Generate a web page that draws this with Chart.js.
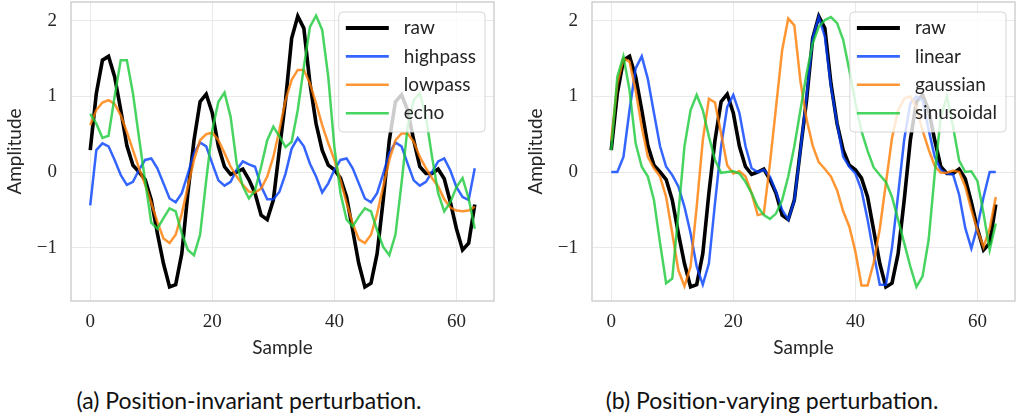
<!DOCTYPE html>
<html>
<head>
<meta charset="utf-8">
<script src="https://cdn.jsdelivr.net/npm/chart.js@4.4.0/dist/chart.umd.min.js"></script>
<style>
  body { margin: 0; background: #fff; }
  #fig { position: relative; width: 1023px; height: 419px; background: #fff; overflow: hidden; }
  canvas { position: absolute; top: 0; }
  .caption { position: absolute; top: 387px; width: 498px; text-align: center; font: 23px Lato, sans-serif; line-height: 27px; color: #111; }
</style>
</head>
<body>
<div id="fig">
  <canvas id="chartA" width="502" height="370" style="left:0px"></canvas>
  <canvas id="chartB" width="502" height="370" style="left:521px"></canvas>
  <div class="caption" style="left:0px">(a) Position-invariant perturbation.</div>
  <div class="caption" style="left:523px">(b) Position-varying perturbation.</div>
</div>
<script>
// values (sample index 0..63)
const raw = [0.29, 1.04, 1.48, 1.53, 1.26, 0.82, 0.35, 0.09, 0.0, -0.10,
    -0.37, -0.81, -1.21, -1.52, -1.49, -1.08, -0.28, 0.42, 0.93, 1.03,
    0.78, 0.34, 0.07, -0.03, 0.0, 0.04, -0.10, -0.28, -0.57, -0.63,
    -0.37, 0.30, 0.95, 1.77, 2.06, 1.90, 1.17, 0.64, 0.29, 0.09,
    0.03, -0.08, -0.33, -0.77, -1.21, -1.52, -1.47, -1.08, -0.37, 0.42,
    0.93, 1.02, 0.82, 0.42, 0.07, -0.02, -0.02, 0.04, -0.09, -0.40,
    -0.75, -1.03, -0.94, -0.43];
const highpass = [-0.44, 0.29, 0.38, 0.34, 0.16, -0.04, -0.17, -0.13, 0.03, 0.16,
    0.18, 0.05, -0.15, -0.35, -0.40, -0.28, -0.02, 0.25, 0.39, 0.34,
    0.11, -0.11, -0.18, -0.13, 0.03, 0.14, 0.10, 0.07, -0.19, -0.36,
    -0.36, -0.26, -0.02, 0.31, 0.45, 0.34, 0.11, -0.06, -0.27, -0.15,
    0.03, 0.16, 0.18, 0.05, -0.15, -0.35, -0.40, -0.28, -0.02, 0.25,
    0.39, 0.34, 0.11, -0.11, -0.18, -0.13, 0.0, 0.14, 0.18, 0.02,
    -0.20, -0.33, -0.37, 0.05];
const lowpass = [0.62, 0.82, 0.92, 0.95, 0.90, 0.75, 0.53, 0.29, 0.05, -0.17,
    -0.41, -0.66, -0.88, -0.94, -0.83, -0.55, -0.19, 0.16, 0.42, 0.50,
    0.52, 0.42, 0.25, 0.07, -0.06, -0.17, -0.26, -0.27, -0.22, -0.06,
    0.20, 0.56, 0.95, 1.22, 1.35, 1.35, 1.17, 0.91, 0.62, 0.38,
    0.16, -0.11, -0.41, -0.68, -0.89, -0.94, -0.83, -0.55, -0.19, 0.16,
    0.42, 0.51, 0.51, 0.40, 0.20, 0.05, -0.08, -0.19, -0.36, -0.47,
    -0.51, -0.52, -0.51, -0.46];
const echo = [0.77, 0.64, 0.45, 0.48, 1.00, 1.48, 1.48, 1.04, 0.45, -0.12,
    -0.67, -0.75, -0.61, -0.48, -0.52, -0.81, -1.03, -1.10, -0.83, -0.11,
    0.56, 0.93, 1.05, 0.73, 0.11, -0.19, -0.35, -0.24, 0.07, 0.42,
    0.60, 0.47, 0.33, 0.40, 0.82, 1.39, 1.92, 2.07, 1.88, 1.26,
    0.33, -0.28, -0.63, -0.72, -0.59, -0.48, -0.52, -0.77, -0.99, -1.10,
    -0.83, -0.15, 0.60, 0.95, 1.04, 0.73, 0.20, -0.28, -0.52, -0.40,
    -0.20, -0.08, -0.35, -0.75];
const linear = [0.0, 0.0, 0.20, 0.82, 1.37, 1.53, 1.23, 0.78, 0.34, 0.07,
    -0.04, -0.19, -0.46, -0.81, -1.25, -1.49, -1.21, -0.41, 0.34, 0.86,
    1.02, 0.78, 0.34, 0.05, 0.0, 0.03, -0.06, -0.26, -0.50, -0.63,
    -0.38, 0.29, 1.00, 1.77, 2.05, 1.79, 1.13, 0.64, 0.20, 0.07,
    -0.02, -0.24, -0.63, -1.08, -1.49, -1.49, -1.00, -0.30, 0.43, 0.91,
    1.00, 0.95, 0.56, 0.20, 0.03, -0.02, -0.03, -0.30, -0.74, -1.01,
    -0.72, -0.33, 0.0, 0.0];
const gaussian = [0.42, 1.17, 1.50, 1.46, 1.08, 0.60, 0.20, 0.05, -0.06, -0.33,
    -0.81, -1.30, -1.51, -1.25, -0.46, 0.42, 0.97, 0.92, 0.51, 0.09,
    -0.02, 0.01, -0.06, -0.28, -0.57, -0.55, 0.11, 0.86, 1.61, 2.03,
    1.94, 1.20, 0.70, 0.35, 0.13, 0.04, -0.06, -0.24, -0.52, -0.72,
    -1.05, -1.50, -1.50, -1.20, -0.75, -0.15, 0.45, 0.82, 0.97, 1.00,
    0.85, 0.55, 0.30, 0.08, -0.01, -0.01, 0.02, 0.0, -0.19, -0.50,
    -0.77, -0.99, -0.75, -0.33];
const sinusoidal = [0.29, 1.26, 1.53, 1.08, 0.38, 0.07, -0.06, -0.37, -0.94, -1.47,
    -1.41, -0.55, 0.34, 0.82, 1.02, 0.82, 0.47, 0.16, -0.01, 0.0,
    0.01, -0.02, -0.13, -0.28, -0.46, -0.57, -0.62, -0.55, -0.37, -0.06,
    0.34, 0.82, 1.30, 1.70, 1.92, 2.01, 2.05, 1.97, 1.75, 1.35,
    0.92, 0.54, 0.28, 0.06, -0.04, -0.13, -0.33, -0.63, -0.94, -1.25,
    -1.52, -1.38, -0.90, -0.02, 0.73, 1.00, 0.60, 0.15, 0.0, 0.01,
    -0.12, -0.55, -1.03, -0.68];

const xTicks = [0, 20, 40, 60];
const yTicks = [-1, 0, 1, 2];
const xRange = [-3.15, 66.15];
const yRange = [-1.706, 2.249];

const BLACK = "#000000";
const BLUE = "rgba(2, 62, 255, 0.8)";
const ORANGE = "rgba(255, 124, 0, 0.8)";
const GREEN = "rgba(26, 201, 56, 0.8)";
const TEXT = "#262626";

function series(label, values, color, width, order) {
    return {
        label: label,
        data: values.map((v, i) => ({ x: i, y: v })),
        borderColor: color,
        backgroundColor: color,
        borderWidth: width,
        pointRadius: 0,
        tension: 0,
        fill: false,
        order: order,
    };
}

// frame around the plot area + matplotlib-like legend inside it
const frameLegend = {
    id: "frameLegend",
    afterDatasetsDraw(chart) {
        const { ctx, chartArea } = chart;
        const sets = chart.data.datasets;
        ctx.save();
        ctx.strokeStyle = "#d0d0d0";
        ctx.lineWidth = 1.5;
        ctx.strokeRect(chartArea.left, chartArea.top, chartArea.right - chartArea.left, chartArea.bottom - chartArea.top);

        ctx.font = "19px Lato";
        let textW = 0;
        sets.forEach((d) => { textW = Math.max(textW, ctx.measureText(d.label).width); });
        const w = 7 + 43 + 15 + textW + 9;
        const h = 120;
        const x = chartArea.right - 9 - w;
        const y = chartArea.top + 10;
        ctx.beginPath();
        ctx.roundRect(x, y, w, h, 4);
        ctx.fillStyle = "rgba(255,255,255,0.8)";
        ctx.fill();
        ctx.strokeStyle = "rgba(204,204,204,0.8)";
        ctx.lineWidth = 1;
        ctx.stroke();

        sets.forEach((d, i) => {
            const ry = y + 16 + i * 28.4;
            ctx.beginPath();
            ctx.moveTo(x + 7, ry);
            ctx.lineTo(x + 50, ry);
            ctx.strokeStyle = d.borderColor;
            ctx.lineWidth = i === 0 ? 4 : 2.6;
            ctx.stroke();
            ctx.fillStyle = TEXT;
            ctx.textBaseline = "middle";
            ctx.textAlign = "left";
            ctx.fillText(d.label, x + 65, ry);
        });
        ctx.restore();
    },
};

function makeChart(id, datasets) {
    const ctx = document.getElementById(id).getContext("2d");
    return new Chart(ctx, {
        type: "line",
        data: { datasets: datasets },
        plugins: [frameLegend],
        options: {
            responsive: false,
            animation: false,
            devicePixelRatio: 1,
            layout: { padding: { top: 2, right: 8, left: 0, bottom: 0 } },
            plugins: { legend: { display: false }, tooltip: { enabled: false } },
            scales: {
                x: {
                    type: "linear",
                    min: xRange[0],
                    max: xRange[1],
                    afterBuildTicks: (s) => { s.ticks = xTicks.map((v) => ({ value: v })); },
                    afterFit: (s) => {
                        s.height = 69;
                        s.paddingLeft = 0;
                        s.paddingRight = 0;
                    },
                    grid: { color: "#e9e9e9", lineWidth: 1, drawTicks: false },
                    border: { display: false },
                    ticks: {
                        autoSkip: false,
                        maxRotation: 0,
                        padding: 10,
                        color: TEXT,
                        font: { family: "'Liberation Serif', serif", size: 19 },
                        callback: (v) => String(v),
                    },
                    title: {
                        display: true,
                        text: "Sample",
                        color: TEXT,
                        font: { family: "Lato", size: 19 },
                        padding: { top: 0, bottom: 11 },
                    },
                },
                y: {
                    type: "linear",
                    min: yRange[0],
                    max: yRange[1],
                    afterBuildTicks: (s) => { s.ticks = yTicks.map((v) => ({ value: v })); },
                    afterFit: (s) => {
                        s.width = 71;
                        s.paddingTop = 0;
                        s.paddingBottom = 0;
                    },
                    grid: { color: "#e9e9e9", lineWidth: 1, drawTicks: false },
                    border: { display: false },
                    ticks: {
                        padding: 14,
                        color: TEXT,
                        font: { family: "'Liberation Serif', serif", size: 19 },
                        callback: (v) => (v < 0 ? "\u2212" + Math.abs(v) : String(v)),
                    },
                    title: {
                        display: true,
                        text: "Amplitude",
                        color: TEXT,
                        font: { family: "Lato", size: 19 },
                        padding: { top: 3, bottom: 0 },
                    },
                },
            },
        },
    });
}

makeChart("chartA", [
    series("raw", raw, BLACK, 3.6, 4),
    series("highpass", highpass, BLUE, 2.5, 3),
    series("lowpass", lowpass, ORANGE, 2.5, 2),
    series("echo", echo, GREEN, 2.5, 1),
]);

makeChart("chartB", [
    series("raw", raw, BLACK, 3.6, 4),
    series("linear", linear, BLUE, 2.5, 3),
    series("gaussian", gaussian, ORANGE, 2.5, 2),
    series("sinusoidal", sinusoidal, GREEN, 2.5, 1),
]);
</script>
</body>
</html>
